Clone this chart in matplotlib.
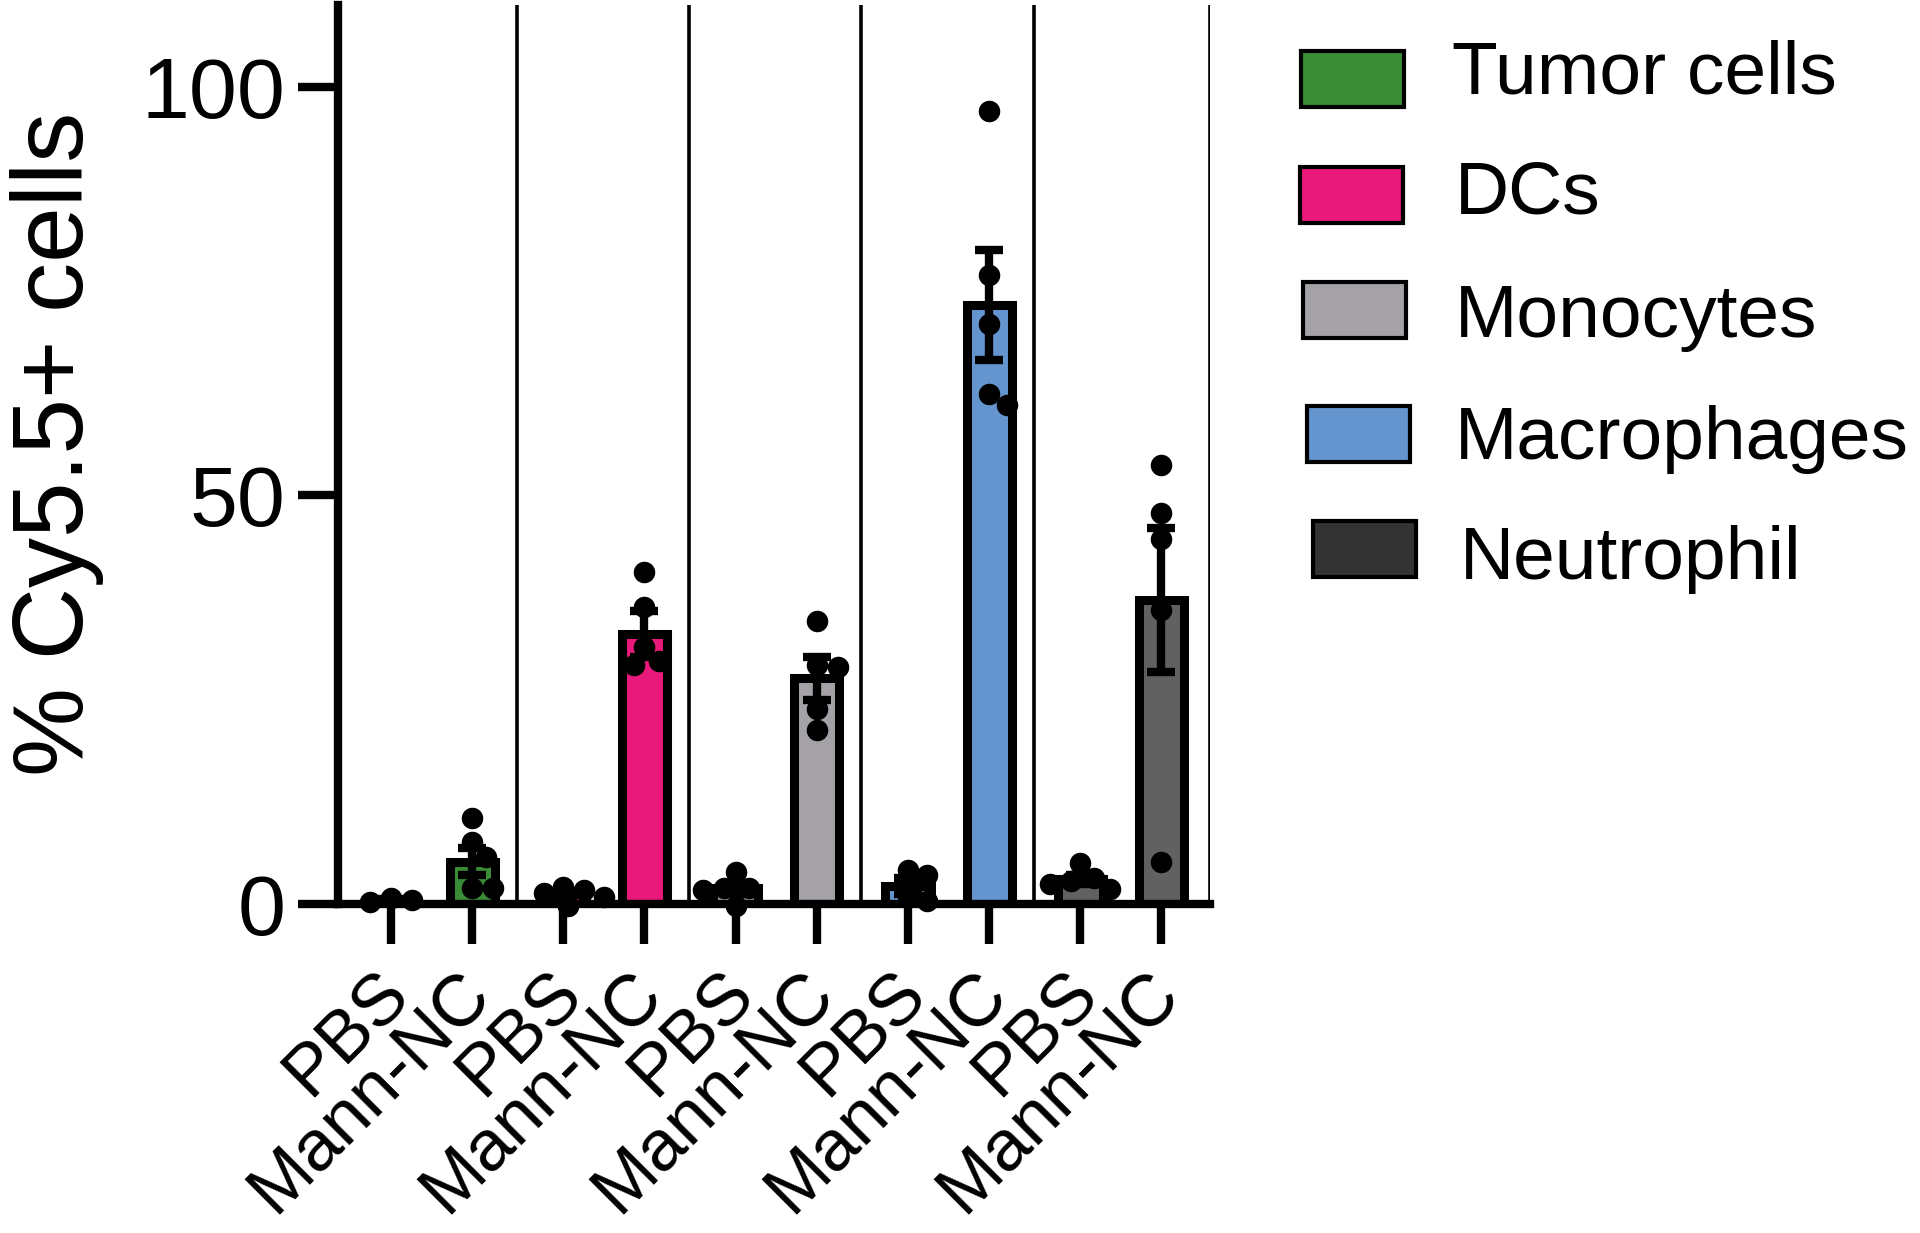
import numpy as np
import matplotlib
matplotlib.use('Agg')
import matplotlib.pyplot as plt
import matplotlib.transforms as mtransforms
from matplotlib.patches import Rectangle

plt.rcParams['font.family'] = ['Liberation Sans', 'DejaVu Sans']

# data (% Cy5.5+ cells)
cell_types = ['Tumor cells', 'DCs', 'Monocytes', 'Macrophages', 'Neutrophil']
treatments = ['PBS', 'Mann-NC']

pbs_mean = [0.5, 1.2, 1.9, 2.2, 3.0]
pbs_sem = [0.15, 0.45, 0.7, 0.95, 0.55]
mann_mean = [5.2, 33.0, 27.6, 73.3, 37.2]
mann_sem = [1.7, 2.8, 2.6, 6.7, 8.8]

pbs_points = [
    [0.7, 0.5, 0.3],
    [2.1, 1.7, 1.4, 0.9, -0.3],
    [3.9, 2.0, 1.9, 1.7, -0.3],
    [4.2, 3.5, 1.0, 0.4],
    [5.0, 3.2, 2.8, 2.5, 1.8],
]
mann_points = [
    [10.5, 7.6, 5.8, 2.0, 2.0],
    [40.6, 36.4, 31.4, 29.7, 29.3],
    [34.6, 29.2, 29.0, 23.8, 21.3],
    [97.0, 77.0, 71.0, 62.4, 61.1],
    [53.7, 47.8, 44.7, 36.0, 5.2],
]

bar_colors = ['#3a8c36', '#e8197a', '#a4a2a7', '#6495cf', '#616161']
legend_colors = ['#3a8c36', '#e8197a', '#a4a2a7', '#6495cf', '#333333']

W, H, DPI = 1920, 1233, 100
fig = plt.figure(figsize=(W / DPI, H / DPI), dpi=DPI)
ax = fig.add_axes([338 / W, 1 - 904 / H, 872 / W, 899 / H])

group_step = 2.125
xlim = (-0.655, 10.1)
ylim = (0, 110)
ax.set_xlim(*xlim)
ax.set_ylim(*ylim)

# pixels per data unit, used for the dot swarm
px_x = 872 / (xlim[1] - xlim[0])
px_y = 899 / (ylim[1] - ylim[0])
dot_px = 21


def swarm(vals):
    # simple beeswarm: put each dot as close to the centre as it fits
    placed = []
    offs = []
    cand = [0]
    for k in range(1, 40):
        cand += [k * 1.5, -k * 1.5]
    for v in vals:
        for c in cand:
            ok = True
            for (pc, pv) in placed:
                dx = c - pc
                dy = (v - pv) * px_y
                if dx * dx + dy * dy < (dot_px * 0.95) ** 2:
                    ok = False
                    break
            if ok:
                placed.append((c, v))
                offs.append(c / px_x)
                break
    return offs


bar_w = 0.556
xticks = []
xlabels = []
for g in range(len(cell_types)):
    for j, (means, sems, pts) in enumerate([(pbs_mean, pbs_sem, pbs_points),
                                            (mann_mean, mann_sem, mann_points)]):
        x = g * group_step + j
        xticks.append(x)
        xlabels.append(treatments[j])
        ax.bar(x, means[g], width=bar_w, color=bar_colors[g], edgecolor='black',
               linewidth=6.5, zorder=2)
        ax.errorbar(x, means[g], yerr=sems[g], fmt='none', ecolor='black',
                    elinewidth=6, capsize=10, capthick=6, zorder=3)
        offs = swarm(pts[g])
        ax.plot(x + np.array(offs), pts[g], 'o', color='black', markersize=15.5,
                markeredgewidth=0, zorder=4, clip_on=False)

# thin lines between the cell type groups
for g in range(len(cell_types)):
    sep = g * group_step + 1 + 0.55 if g < len(cell_types) - 1 else xlim[1]
    ax.axvline(sep, color='black', linewidth=2.6, zorder=1)

for s in ['top', 'right']:
    ax.spines[s].set_visible(False)
for s in ['left', 'bottom']:
    ax.spines[s].set_linewidth(6)

ax.set_yticks([0, 50, 100])
ax.tick_params(axis='both', direction='out', length=29, width=6)
ax.tick_params(axis='y', pad=9, labelsize=62)
ax.set_xticks(xticks)
ax.set_xticklabels(xlabels, rotation=45, ha='right', va='baseline',
                   rotation_mode='anchor', fontsize=52)
ax.tick_params(axis='x', pad=37)
shift = mtransforms.ScaledTranslation(20 / DPI, 0, fig.dpi_scale_trans)
for lab in ax.get_xticklabels():
    lab.set_transform(lab.get_transform() + shift)

ax.set_ylabel('% Cy5.5+ cells', fontsize=72)
ax.yaxis.set_label_coords(-0.268, 0.512)

# legend drawn by hand, GraphPad style (pixel boxes from the figure)
leg_patch_x = [1301, 1300, 1303, 1307, 1313]
leg_patch_y = [51, 167, 282, 406, 521]
leg_text_x = [1452, 1455, 1455, 1455, 1460]
leg_text_base = [94, 214, 337, 459, 579]
patch_w, patch_h = 103, 56
for i, name in enumerate(cell_types):
    fig.patches.append(Rectangle((leg_patch_x[i] / W, 1 - (leg_patch_y[i] + patch_h) / H),
                                 patch_w / W, patch_h / H, transform=fig.transFigure,
                                 facecolor=legend_colors[i], edgecolor='black',
                                 linewidth=3))
    fig.text(leg_text_x[i] / W, 1 - leg_text_base[i] / H, name, fontsize=54,
             ha='left', va='baseline')

fig.savefig('out.png', dpi=DPI)
